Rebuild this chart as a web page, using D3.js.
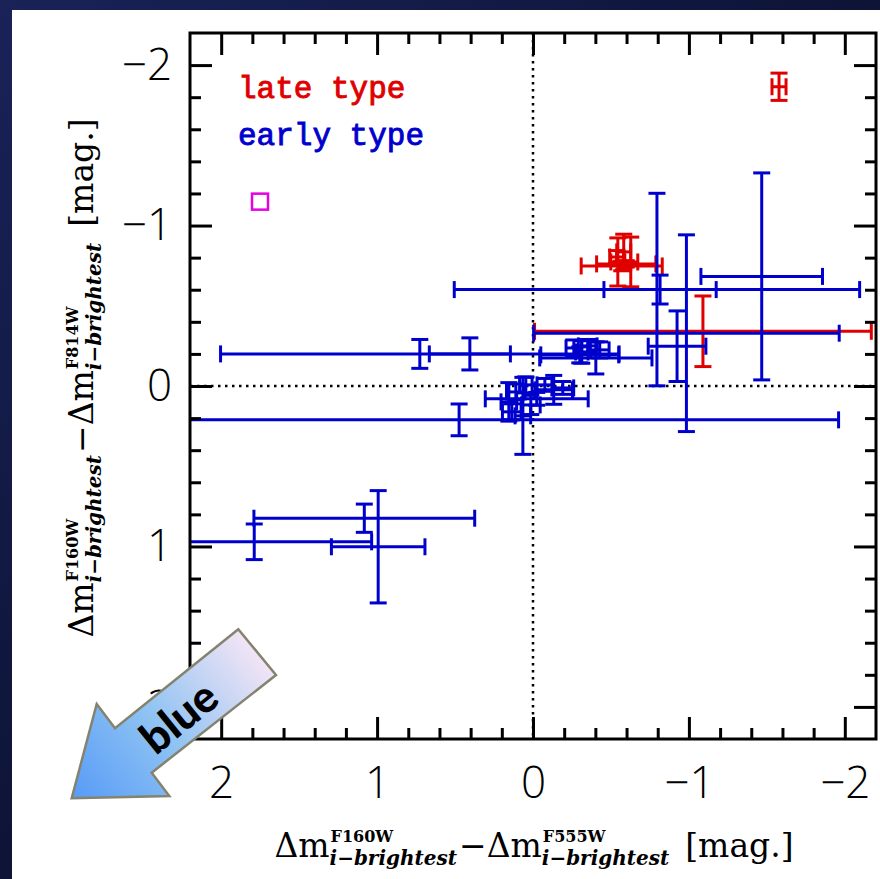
<!DOCTYPE html>
<html>
<head>
<meta charset="utf-8">
<script src="https://cdn.jsdelivr.net/npm/d3@7"></script>
<style>
  html, body { margin: 0; padding: 0; background: #0b1030; }
  svg { display: block; }
  .tick text { font-family: "Open Sans", "Liberation Sans", sans-serif; font-weight: 300; font-size: 44px; fill: #000; }
  .lblMain { font-family: "DejaVu Serif", serif; font-size: 33px; fill: #000; }
  .lblSup { font-family: "DejaVu Serif", serif; font-weight: bold; font-size: 16px; fill: #000; }
  .lblSub { font-family: "DejaVu Serif", serif; font-weight: bold; font-style: italic; font-size: 20px; fill: #000; }
  .legend { font-family: "Liberation Mono", monospace; font-size: 31px; stroke-width: 0.9px; }
</style>
</head>
<body>
<svg id="chart" width="880" height="879"></svg>
<script>
// ---- data: colour differences relative to the brightest galaxy ----
// early-type galaxies
const earlyX    = [-1.467, -0.984, -0.795, -0.815, -0.924, 0.726, 0.405, 0.474, 0.993, 1.788, 1.082,
                   -0.262, -0.351, -0.403, -0.300, -0.428, -0.313,
                   -0.024, -0.133, 0.065, 0.155, 0.110, 0.014, -0.191, -0.076, 0.136, 0.046];
const earlyY    = [-0.683, -0.329, -0.601, -0.601, -0.248, -0.200, -0.200, 0.211, 1.002, 0.971, 0.824,
                   -0.237, -0.250, -0.175, -0.194, -0.225, -0.212,
                   0.080, 0.024, 0.186, 0.099, 0.037, 0.118, 0.012, -0.007, 0.161, -0.007];
const earlyXerr = [0.39, 0.98, 1.30, 0.36, 0.185, 1.278, 0.26, 2.434, 0.30, 0.753, 0.708,
                   0.05, 0.06, 0.36, 0.25, 0.06, 0.04,
                   0.33, 0.12, 0.05, 0.05, 0.06, 0.06, 0.07, 0.05, 0.06, 0.04];
const earlyYerr = [0.645, 0.613, 0.60, 0.09, 0.22, 0.09, 0.10, 0.099, 0.35, 0.111, 0.088,
                   0.05, 0.04, 0.10, 0.05, 0.05, 0.07,
                   0.04, 0.09, 0.24, 0.12, 0.05, 0.06, 0.04, 0.04, 0.05, 0.05];

// late-type galaxies
const lateX    = [-1.578, -1.090, -0.582, -0.537, -0.627, -0.569, -0.598, -0.544];
const lateY    = [-1.865, -0.341, -0.836, -0.804, -0.773, -0.748, -0.761, -0.773];
const lateXerr = [0.045, 1.08, 0.045, 0.045, 0.045, 0.26, 0.19, 0.045];
const lateYerr = [0.085, 0.22, 0.11, 0.04, 0.155, 0.03, 0.02, 0.15];

// single object drawn with an open square
const otherX = [1.751];
const otherY = [-1.149];

const xTickLabels = [2, 1, 0, -1, -2];
const yTickLabels = [-2, -1, 0, 1, 2];
const minorStep = 0.2;

// ---- layout ----
const W = 880, H = 879;
const plot = { left: 190, right: 876, top: 33, bottom: 739 };
const BLUE = "#0000cd", RED = "#e00000", MAGENTA = "#e600e6";

const svg = d3.select("#chart");
const defs = svg.append("defs");

// dark backdrop
const bg = defs.append("linearGradient").attr("id", "space").attr("x1", 0).attr("y1", 0).attr("x2", 1).attr("y2", 1);
bg.append("stop").attr("offset", "0%").attr("stop-color", "#1a2258");
bg.append("stop").attr("offset", "50%").attr("stop-color", "#0d1436");
bg.append("stop").attr("offset", "100%").attr("stop-color", "#080c24");
svg.append("rect").attr("width", W).attr("height", H).attr("fill", "url(#space)");
svg.append("rect").attr("x", 12).attr("y", 10).attr("width", W - 12).attr("height", H - 10).attr("fill", "#fff");

const x = d3.scaleLinear().domain([2.2, -2.2]).range([plot.left, plot.right]);
const y = d3.scaleLinear().domain([-2.2, 2.2]).range([plot.top, plot.bottom]);

defs.append("clipPath").attr("id", "plotClip").append("rect")
  .attr("x", plot.left).attr("y", plot.top)
  .attr("width", plot.right - plot.left).attr("height", plot.bottom - plot.top);

// ---- zero lines ----
const zero = svg.append("g").attr("stroke", "#000").attr("stroke-width", 2.5).attr("stroke-dasharray", "2.5,4.5");
zero.append("line").attr("x1", x(0)).attr("x2", x(0)).attr("y1", plot.top).attr("y2", plot.bottom);
zero.append("line").attr("x1", plot.left).attr("x2", plot.right).attr("y1", y(0)).attr("y2", y(0));

// ---- error bars ----
const CAP = 8.5;
function drawErrorBars(xs, ys, xe, ye, color) {
  const rows = xs.map((v, i) => ({ x: v, y: ys[i], xe: xe[i], ye: ye[i] }));
  const g = svg.append("g").attr("clip-path", "url(#plotClip)")
    .attr("stroke", color).attr("stroke-width", 3).attr("fill", "none");
  const pt = g.selectAll("g").data(rows).join("g");
  // horizontal bar + end caps
  pt.append("line").attr("x1", d => x(d.x - d.xe)).attr("x2", d => x(d.x + d.xe))
    .attr("y1", d => y(d.y)).attr("y2", d => y(d.y));
  pt.append("line").attr("x1", d => x(d.x - d.xe)).attr("x2", d => x(d.x - d.xe))
    .attr("y1", d => y(d.y) - CAP).attr("y2", d => y(d.y) + CAP);
  pt.append("line").attr("x1", d => x(d.x + d.xe)).attr("x2", d => x(d.x + d.xe))
    .attr("y1", d => y(d.y) - CAP).attr("y2", d => y(d.y) + CAP);
  // vertical bar + end caps
  pt.append("line").attr("x1", d => x(d.x)).attr("x2", d => x(d.x))
    .attr("y1", d => y(d.y - d.ye)).attr("y2", d => y(d.y + d.ye));
  pt.append("line").attr("x1", d => x(d.x) - CAP).attr("x2", d => x(d.x) + CAP)
    .attr("y1", d => y(d.y - d.ye)).attr("y2", d => y(d.y - d.ye));
  pt.append("line").attr("x1", d => x(d.x) - CAP).attr("x2", d => x(d.x) + CAP)
    .attr("y1", d => y(d.y + d.ye)).attr("y2", d => y(d.y + d.ye));
}
drawErrorBars(lateX, lateY, lateXerr, lateYerr, RED);
drawErrorBars(earlyX, earlyY, earlyXerr, earlyYerr, BLUE);

svg.append("g").selectAll("rect").data(otherX.map((v, i) => [v, otherY[i]])).join("rect")
  .attr("x", d => x(d[0]) - 8).attr("y", d => y(d[1]) - 8)
  .attr("width", 16).attr("height", 16)
  .attr("fill", "none").attr("stroke", MAGENTA).attr("stroke-width", 2.5);

// ---- axes: ticks on all four sides, pointing inwards ----
const minorVals = d3.range(-2.2 + minorStep, 2.2, minorStep).map(v => +v.toFixed(2)).filter(v => Math.abs(Math.round(v) - v) > 1e-6);
function styleAxis(g) {
  g.select(".domain").remove();
  g.selectAll(".tick line").attr("stroke", "#000").attr("stroke-width", 3);
}
const fmt = d3.format("d");
svg.append("g").attr("transform", `translate(0,${plot.bottom})`)
  .call(d3.axisBottom(x).tickValues(xTickLabels).tickSize(-22).tickPadding(28).tickFormat(fmt)).call(styleAxis);
svg.append("g").attr("transform", `translate(0,${plot.bottom})`)
  .call(d3.axisBottom(x).tickValues(minorVals).tickSize(-11).tickFormat("")).call(styleAxis);
svg.append("g").attr("transform", `translate(0,${plot.top})`)
  .call(d3.axisTop(x).tickValues(xTickLabels).tickSize(-22).tickFormat("")).call(styleAxis);
svg.append("g").attr("transform", `translate(0,${plot.top})`)
  .call(d3.axisTop(x).tickValues(minorVals).tickSize(-11).tickFormat("")).call(styleAxis);
svg.append("g").attr("transform", `translate(${plot.left},0)`)
  .call(d3.axisLeft(y).tickValues(yTickLabels).tickSize(-22).tickPadding(18).tickFormat(fmt)).call(styleAxis);
svg.append("g").attr("transform", `translate(${plot.left},0)`)
  .call(d3.axisLeft(y).tickValues(minorVals).tickSize(-11).tickFormat("")).call(styleAxis);
svg.append("g").attr("transform", `translate(${plot.right},0)`)
  .call(d3.axisRight(y).tickValues(yTickLabels).tickSize(-22).tickFormat("")).call(styleAxis);
svg.append("g").attr("transform", `translate(${plot.right},0)`)
  .call(d3.axisRight(y).tickValues(minorVals).tickSize(-11).tickFormat("")).call(styleAxis);

// frame
svg.append("rect").attr("x", plot.left).attr("y", plot.top)
  .attr("width", plot.right - plot.left).attr("height", plot.bottom - plot.top)
  .attr("fill", "none").attr("stroke", "#000").attr("stroke-width", 3);

// ---- legend ----
svg.append("text").attr("class", "legend").attr("x", 238).attr("y", 98)
  .attr("fill", RED).attr("stroke", RED).text("late type");
svg.append("text").attr("class", "legend").attr("x", 238).attr("y", 145)
  .attr("fill", BLUE).attr("stroke", BLUE).text("early type");

// ---- axis titles with stacked super/subscripts ----
function mathLabel(g, parts) {
  let cx = 0;
  parts.forEach(p => {
    if (p.text !== undefined) {
      cx += p.gap || 0;
      const t = g.append("text").attr("class", "lblMain").attr("x", cx).attr("y", 0).text(p.text);
      cx += t.node().getComputedTextLength();
    } else {
      const s = g.append("text").attr("class", "lblSup").attr("x", cx + 1).attr("y", -15).text(p.sup);
      const b = g.append("text").attr("class", "lblSub").attr("x", cx).attr("y", 8).text(p.sub);
      cx += Math.max(s.node().getComputedTextLength(), b.node().getComputedTextLength()) + 2;
    }
  });
  g.selectAll("text").attr("x", function () { return +this.getAttribute("x") - cx / 2; });
}
mathLabel(svg.append("g").attr("transform", "translate(534,857)"), [
  { text: "Δm" }, { sup: "F160W", sub: "i−brightest" },
  { text: "−Δm" }, { sup: "F555W", sub: "i−brightest" },
  { text: "[mag.]", gap: 14 }
]);
mathLabel(svg.append("g").attr("transform", "translate(93,378) rotate(-90)"), [
  { text: "Δm" }, { sup: "F160W", sub: "i−brightest" },
  { text: "−Δm" }, { sup: "F814W", sub: "i−brightest" },
  { text: "[mag.]", gap: 14 }
]);

// ---- "blue" direction arrow ----
const arrowPts = [[238.3, 629.3], [276, 675], [151.7, 772.7], [169.3, 796], [71.7, 798.3], [96.7, 704], [115, 728.3]];
const ag = defs.append("linearGradient").attr("id", "arrowFill").attr("gradientUnits", "userSpaceOnUse")
  .attr("x1", 80).attr("y1", 795).attr("x2", 262).attr("y2", 648);
ag.append("stop").attr("offset", "0%").attr("stop-color", "#5b9ef7");
ag.append("stop").attr("offset", "45%").attr("stop-color", "#8fc3f2");
ag.append("stop").attr("offset", "100%").attr("stop-color", "#f8e6f6");
svg.append("polygon").attr("points", arrowPts.map(p => p.join(",")).join(" "))
  .attr("fill", "url(#arrowFill)").attr("stroke", "#84836f").attr("stroke-width", 2.5).attr("stroke-linejoin", "miter");
svg.append("text").attr("transform", "translate(178,716) rotate(-39)")
  .attr("text-anchor", "middle").attr("dominant-baseline", "central")
  .style("font-family", "Lato, 'Open Sans', sans-serif").style("font-weight", 900).style("font-size", "44px")
  .attr("fill", "#000").text("blue");
</script>
</body>
</html>
